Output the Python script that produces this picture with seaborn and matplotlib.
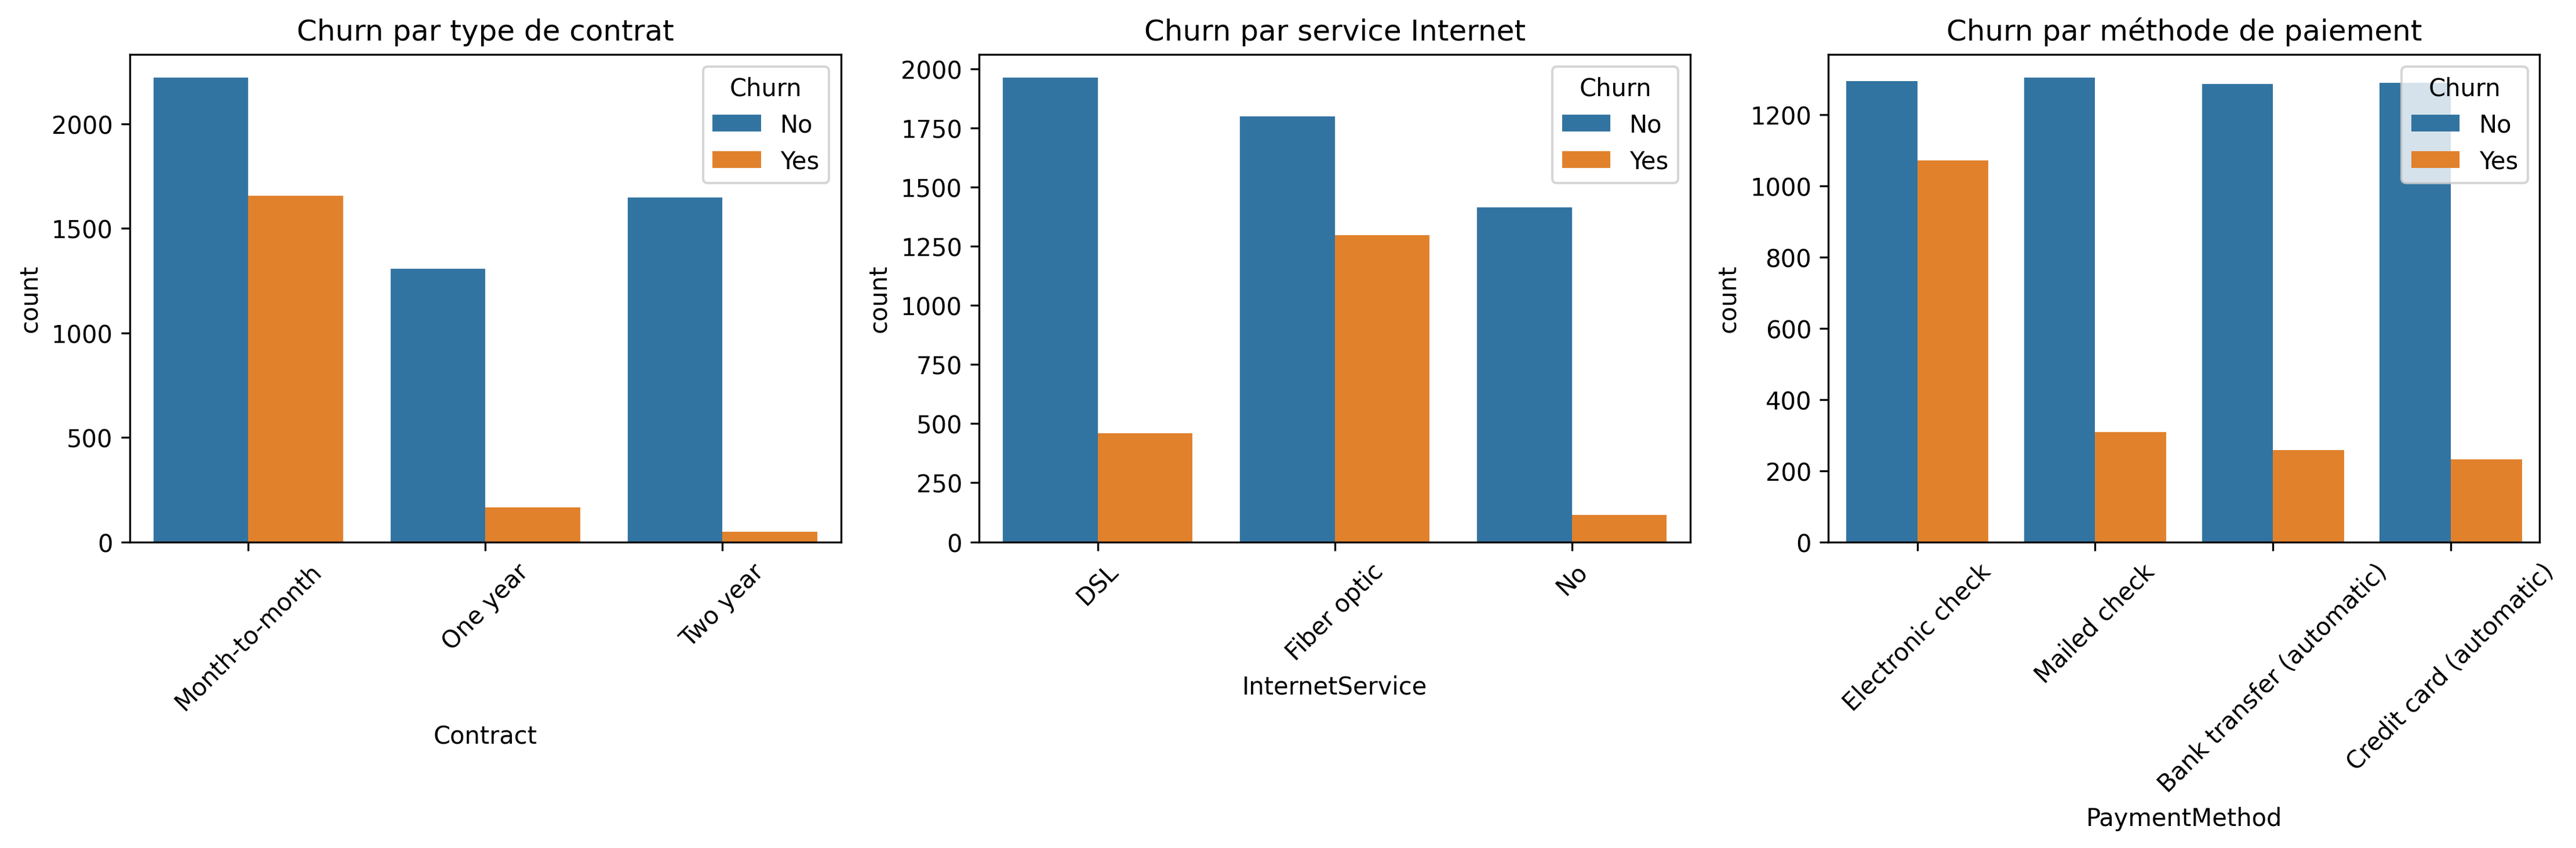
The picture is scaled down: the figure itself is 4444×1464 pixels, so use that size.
import matplotlib
matplotlib.use("Agg")
import matplotlib.pyplot as plt
import pandas as pd
import seaborn as sns

churn = ["No", "Yes"]

contract_cats = ["Month-to-month", "One year", "Two year"]
contract_no = [2220, 1307, 1647]
contract_yes = [1655, 166, 48]

internet_cats = ["DSL", "Fiber optic", "No"]
internet_no = [1962, 1799, 1413]
internet_yes = [459, 1297, 113]

payment_cats = ["Electronic check", "Mailed check", "Bank transfer (automatic)", "Credit card (automatic)"]
payment_no = [1294, 1304, 1286, 1290]
payment_yes = [1071, 308, 258, 232]


def to_df(col, cats, no, yes):
    rows = []
    for c, n, y in zip(cats, no, yes):
        rows.append({col: c, "Churn": "No", "count": n})
        rows.append({col: c, "Churn": "Yes", "count": y})
    return pd.DataFrame(rows)


panels = [
    ("Contract", contract_cats, contract_no, contract_yes, "Churn par type de contrat"),
    ("InternetService", internet_cats, internet_no, internet_yes, "Churn par service Internet"),
    ("PaymentMethod", payment_cats, payment_no, payment_yes, "Churn par méthode de paiement"),
]

fig, axes = plt.subplots(1, 3, figsize=(15, 5))
for ax, (col, cats, no, yes, title) in zip(axes, panels):
    df = to_df(col, cats, no, yes)
    sns.barplot(data=df, x=col, y="count", hue="Churn", hue_order=churn, order=cats, ax=ax)
    ax.set_title(title)
    ax.set_ylabel("count")
    ax.tick_params(axis="x", rotation=45)
    ax.legend(title="Churn", loc="upper right")

fig.tight_layout()
fig.savefig("out.png", dpi=300, bbox_inches="tight")
